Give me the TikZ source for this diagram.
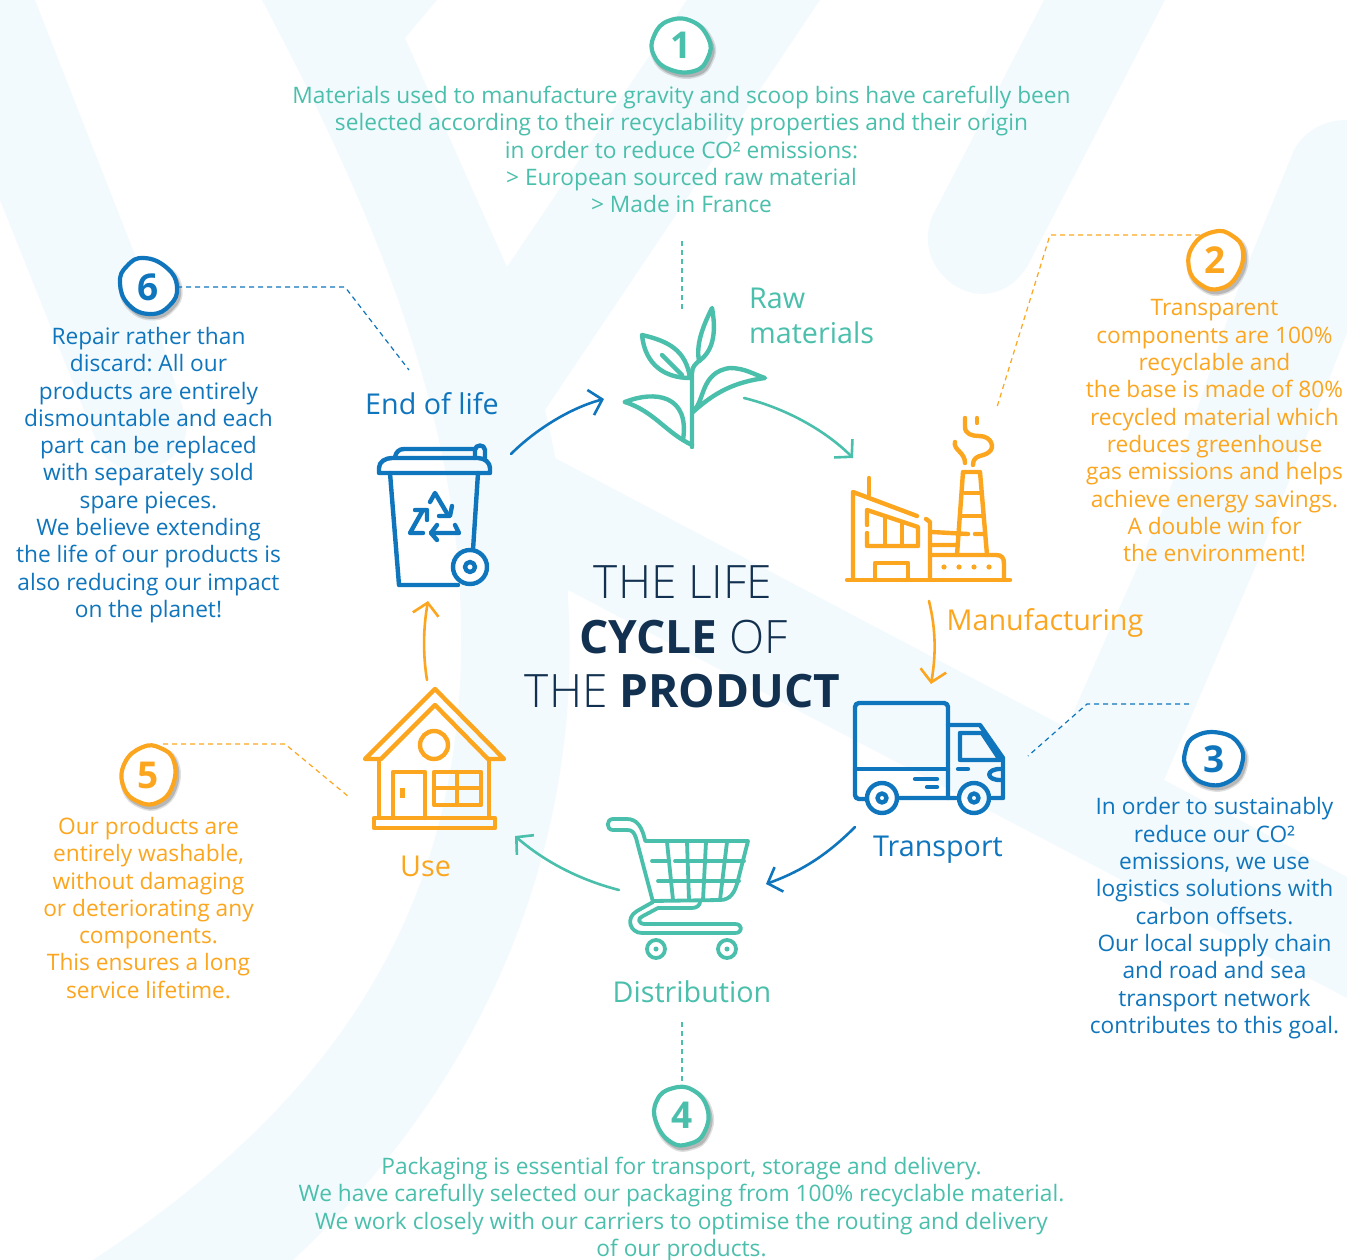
\documentclass[tikz,border=0pt]{standalone}
\usepackage{fontspec}
\setmainfont{Open Sans}
\newfontfamily\lightfont{Open Sans Light}
\usetikzlibrary{arrows.meta}
\definecolor{bgblue}{HTML}{F3FAFD}
\definecolor{cteal}{HTML}{4ABFAC}
\definecolor{corange}{HTML}{FCA61F}
\definecolor{cblue}{HTML}{0F75BC}
\definecolor{cnavy}{HTML}{12304F}
\tikzset{
  ico/.style={line width=4.4pt,line cap=round,line join=round},
  body/.style={align=center,inner sep=0pt,anchor=north,font=\fontsize{22.7}{27.3}\selectfont},
  lab/.style={inner sep=0pt,anchor=base west,font=\fontsize{28.7}{35}\selectfont},
  flow/.style={line width=2.6pt,line cap=round,-{Straight Barb[length=12pt,width=26pt,line width=2.6pt]}},
  leader/.style={line width=1.2pt,dashed,dash pattern=on 5pt off 4pt},
  numnode/.style={circle,minimum size=58pt,inner sep=0pt,font=\fontsize{37}{37}\bfseries\selectfont},
}
\newcommand\blobpath{plot[smooth cycle,tension=.8] coordinates {(-4,-29) (19,-19) (29,0) (22,18) (3,27) (-19,18) (-28,-4) (-21,-21)}}
\newcommand\numblob[6]{%
  \begin{scope}[shift={(#2+2,#3+3)},rotate=#5]
    \draw[black,opacity=.12,line width=7pt] \blobpath;
    \draw[black,opacity=.18,line width=4pt] \blobpath;
  \end{scope}
  \begin{scope}[shift={(#2,#3)},rotate=#5]
    \draw[#4,fill=white,line width=4.2pt] \blobpath;
  \end{scope}
  \node[numnode,text=#4] (#1) at (#2,#3) {#6};}
\begin{document}
\frenchspacing
\begin{tikzpicture}[x=1pt,y=-1pt]
\useasboundingbox (0,0) rectangle (1347,1260);
\fill[white] (0,0) rectangle (1347,1260);
% background shapes
\begin{scope}
\clip (0,0) rectangle (1347,1260);
\fill[bgblue] (0,0) -- (35,0) -- (135,255) -- (185,415) .. controls (198,465) and (125,490) .. (100,450) -- (0,200) -- cycle;
\fill[bgblue] (262,0) -- (437,0) -- (405,38) -- (507,267) -- (687,0) -- (820,0) -- (545,410)
  .. controls (560,470) and (568,540) .. (568,600)
  .. controls (580,780) and (530,1040) .. (293,1260) -- (93,1260)
  .. controls (290,1130) and (462,950) .. (461,640)
  .. controls (462,450) and (400,260) .. (262,0) -- cycle;
\fill[bgblue] (1044,0) -- (934,213) .. controls (905,270) and (985,330) .. (1027,267) -- (1165,0) -- cycle;
\fill[bgblue] (553,457) -- (1067,728) -- (1080,697) -- (1164,507) -- (1240,283) -- (1294,150)
  .. controls (1305,130) and (1325,120) .. (1347,120) -- (1347,333) -- (1257,563) -- (1164,780)
  -- (1347,877) -- (1347,998) -- (568,590) -- cycle;
\end{scope}
% title
\node[inner sep=0pt,anchor=base,font=\fontsize{46}{55}\selectfont,text=cnavy] (title1) at (683,598) {\lightfont THE LIFE};
\node[inner sep=0pt,anchor=base,font=\fontsize{46}{55}\selectfont,text=cnavy] (title2) at (683.5,653) {{\bfseries CYCLE} {\lightfont OF}};
\node[inner sep=0pt,anchor=base,font=\fontsize{46}{55}\selectfont,text=cnavy] (title3) at (682.5,707) {{\lightfont THE} {\bfseries PRODUCT}};
% plant
\begin{scope}[ico,cteal]
\draw (692,447) -- (692,373) .. controls (692,366) and (696,364) .. (700,360);
\draw (712,308) .. controls (702,328) and (696,345) .. (699,361) .. controls (712,352) and (717,335) .. (712,308) -- cycle;
\draw (642,335) .. controls (668,341) and (686,350) .. (690,378) .. controls (665,378) and (645,365) .. (642,335) -- cycle;
\draw (662,355) -- (682,375);
\draw (693,411) .. controls (705,402) and (700,372) .. (730,368) .. controls (745,368) and (755,375) .. (765,378) .. controls (735,382) and (715,392) .. (693,412);
\draw (625,402) .. controls (655,390) and (690,395) .. (683,440);
\draw (625,402) .. controls (655,412) and (665,432) .. (692,445);
\coordinate (plantOutL) at (604,399);
\coordinate (plantOutR) at (744,398);
\end{scope}
% factory
\begin{scope}[ico,corange]
\draw (847,580) -- (1010,580);
\draw (853,578) -- (853,492) -- (917,516);
\draw (869,478) -- (869,495);
\draw (926,519) -- (930,522) -- (930,578);
\draw (867,525) -- (867,510) -- (918,527) -- (918,546) -- (867,546) -- (867,533);
\draw (885,517) -- (885,546) (902,522) -- (902,546);
\draw (875,578) -- (875,563) -- (908,563) -- (908,578);
\draw (957,555) -- (963,472) -- (980,472) -- (987,555);
\draw (965,493) -- (980,493) (962,516) -- (982,516);
\draw (932,532) -- (968,534) (975,534) -- (985,534) (932,545) -- (958,545);
\draw (932,555) -- (996,555) .. controls (1002,555) and (1004,558) .. (1004,564) -- (1004,578);
\foreach \dx in {944,959,974,989}{\fill (\dx,567) circle (2.6pt);}
\draw (965,418) -- (965,427) .. controls (965,434) and (972,436) .. (979,436) .. controls (992,436) and (995,448) .. (989,452) .. controls (984,457) and (973,454) .. (973,465);
\draw (977,418) -- (977,423);
\draw (955,442) .. controls (953,450) and (965,452) .. (965,463);
\end{scope}
% truck
\begin{scope}[ico,cblue]
\draw[rounded corners=4pt] (866,799) -- (855,799) -- (855,703) -- (948,703) -- (948,798);
\draw (855,769) -- (948,769);
\draw (898,798) -- (958,798) (992,798) -- (1003,798) -- (1003,758) -- (980,725) -- (948,725);
\draw (960,733) -- (982,733) -- (1000,760) -- (960,760) -- cycle;
\draw (958,769) -- (968,769);
\draw (915,779) -- (937,779) (927,787) -- (937,787);
\draw (1002,769) .. controls (985,768) and (985,781) .. (1002,780);
\draw (882,798) circle (15pt) (974,798) circle (15pt);
\draw (882,798) circle (4.5pt) (974,798) circle (4.5pt);
\end{scope}
% cart
\begin{scope}[ico,cteal,line width=3.8pt]
\draw (627,830) -- (613,830) .. controls (606,830) and (606,819) .. (613,819) -- (627,819) .. controls (637,819) and (642,827) .. (645,840);
\draw (627,830) .. controls (632,830) and (634,832) .. (636,838) -- (653,902);
\draw (645,841) -- (748,841) -- (738,880) .. controls (735,893) and (730,900) .. (720,900) -- (653,901);
\draw (652,861) -- (668,861) (675,861) -- (744,861) (658,881) -- (739,881);
\draw (667,842) -- (673,900) (687,842) -- (689,900) (706,842) -- (703,900) (727,842) -- (720,900);
\draw (653,902) -- (637,911) .. controls (625,918) and (630,933) .. (642,933) -- (735,933) .. controls (743,933) and (743,924) .. (735,924) -- (645,924) .. controls (638,924) and (637,918) .. (643,916) -- (658,908) -- (692,908) .. controls (697,908) and (700,905) .. (700,902);
\draw (656,949) circle (9pt) (727,949) circle (9pt);
\fill (656,949) circle (2.5pt) (727,949) circle (2.5pt);
\end{scope}
% house
\begin{scope}[ico,corange]
\draw (365,759) -- (435,689) -- (504,759) -- (488,759) -- (435,705) -- (381,759) -- cycle;
\draw (379,759) -- (379,818) (489,759) -- (489,818);
\draw (434,745) circle (14pt);
\draw (393,818) -- (393,772) -- (425,772) -- (425,818);
\fill (400,788) rectangle (405,798);
\draw (434,772) rectangle (481,805);
\draw (457,772) -- (457,805) (434,788) -- (481,788);
\draw (374,818) rectangle (495,828);
\end{scope}
% bin
\begin{scope}[ico,cblue]
\draw (379,473) -- (379,468) .. controls (379,462) and (385,458) .. (392,458) -- (478,458) .. controls (485,458) and (490,463) .. (490,468) -- (490,473) -- cycle;
\draw (395,457) .. controls (396,452) and (399,449) .. (404,449) -- (475,449);
\draw (475,458) -- (475,450) .. controls (475,444) and (485,444) .. (485,450) -- (485,458);
\draw (390,473) -- (399,585) -- (458,585);
\draw (478,473) -- (473,550);
\draw[fill=white] (470,567) circle (17pt);
\draw (470,567) circle (5pt);
\draw (430,502) -- (435,493) -- (448,515);
\draw (452,506) -- (450,516) -- (439,516);
\draw (415,510) -- (427,510) -- (427,520) (423,510) -- (410,533) -- (423,533);
\draw (455,525) -- (459,533) -- (431,533);
\draw (437,525) -- (431,533) -- (437,540);
\end{scope}
% anchors of connectors
\coordinate (binOut) at (511,454);
\coordinate (facIn) at (853,458);
\coordinate (facOut) at (929,601);
\coordinate (truckIn) at (931,684);
\coordinate (truckOut) at (855,827);
\coordinate (cartIn) at (766,884);
\coordinate (cartOut) at (619,890);
\coordinate (useIn) at (515,836);
\coordinate (useOut) at (427,680);
\coordinate (binIn) at (428,601);
% flows
\draw[flow,cblue] (binOut) .. controls (535,430) and (570,408) .. (plantOutL);
\draw[flow,cteal] (plantOutR) .. controls (785,408) and (825,430) .. (facIn);
\draw[flow,corange] (facOut) .. controls (936,630) and (936,655) .. (truckIn);
\draw[flow,cblue] (truckOut) .. controls (830,852) and (805,870) .. (cartIn);
\draw[flow,cteal] (cartOut) .. controls (580,880) and (545,862) .. (useIn);
\draw[flow,corange] (useOut) .. controls (423,655) and (423,630) .. (binIn);
% labels
\node[lab,text=cteal] (lraw) at (749,308) {Raw};
\node[lab,text=cteal] (lmat) at (749,343) {materials};
\node[lab,text=corange] (lman) at (946.5,630) {Manufacturing};
\node[lab,text=cblue] (ltra) at (873,856) {Transport};
\node[lab,text=cteal] (ldis) at (612.5,1002) {Distribution};
\node[lab,text=corange] (luse) at (400,876) {Use};
\node[lab,text=cblue] (lend) at (365,414) {End of life};
% numbered badges
\numblob{n1}{681}{45}{cteal}{200}{1}
\numblob{n2}{1215}{260}{corange}{-80}{2}
\numblob{n3}{1214}{759}{cblue}{30}{3}
\numblob{n4}{682}{1115}{cteal}{150}{4}
\numblob{n5}{148}{775}{corange}{-70}{5}
\numblob{n6}{148}{287}{cblue}{0}{6}
% body text
\node[body,text=cteal] (t1) at (681.5,86) {Materials used to manufacture gravity and scoop bins have carefully been\\selected according to their recyclability properties and their origin\\in order to reduce CO² emissions:\\> European sourced raw material\\> Made in France};
\node[body,text=corange] (t2) at (1214.5,299.5) {Transparent\\components are 100\%\\recyclable and\\the base is made of 80\%\\recycled material which\\reduces greenhouse\\gas emissions and helps\\achieve energy savings.\\A double win for\\the environment!};
\node[body,text=cblue] (t3) at (1214.5,797.5) {In order to sustainably\\reduce our CO²\\emissions, we use\\logistics solutions with\\carbon offsets.\\Our local supply chain\\and road and sea\\transport network\\contributes to this goal.};
\node[body,text=cteal] (t4) at (681.5,1157) {Packaging is essential for transport, storage and delivery.\\We have carefully selected our packaging from 100\% recyclable material.\\We work closely with our carriers to optimise the routing and delivery\\of our products.};
\node[body,text=corange] (t5) at (148.5,817) {Our products are\\entirely washable,\\without damaging\\or deteriorating any\\components.\\This ensures a long\\service lifetime.};
\node[body,text=cblue] (t6) at (148.5,327) {Repair rather than\\discard: All our\\products are entirely\\dismountable and each\\part can be replaced\\with separately sold\\spare pieces.\\We believe extending\\the life of our products is\\also reducing our impact\\on the planet!};
% leaders
\coordinate (a1) at (682,241); \coordinate (b1) at (682,312);
\draw[leader,cteal] (a1) -- (b1);
\coordinate (s2) at (1200,235); \coordinate (a2) at (1050,235); \coordinate (b2) at (997,407);
\draw[leader,corange] (s2) -- (a2) -- (b2);
\coordinate (s3) at (1189,704); \coordinate (a3) at (1087,704); \coordinate (b3) at (1028,756);
\draw[leader,cblue] (s3) -- (a3) -- (b3);
\coordinate (s4) at (682,1022);
\draw[leader,cteal] (s4) -- (n4.north);
\coordinate (s5) at (163,744); \coordinate (a5) at (285,744); \coordinate (b5) at (349,797);
\draw[leader,corange] (s5) -- (a5) -- (b5);
\coordinate (a6) at (345,287); \coordinate (b6) at (409,370);
\draw[leader,cblue] (n6.east) -- (a6) -- (b6);
\end{tikzpicture}
\end{document}
